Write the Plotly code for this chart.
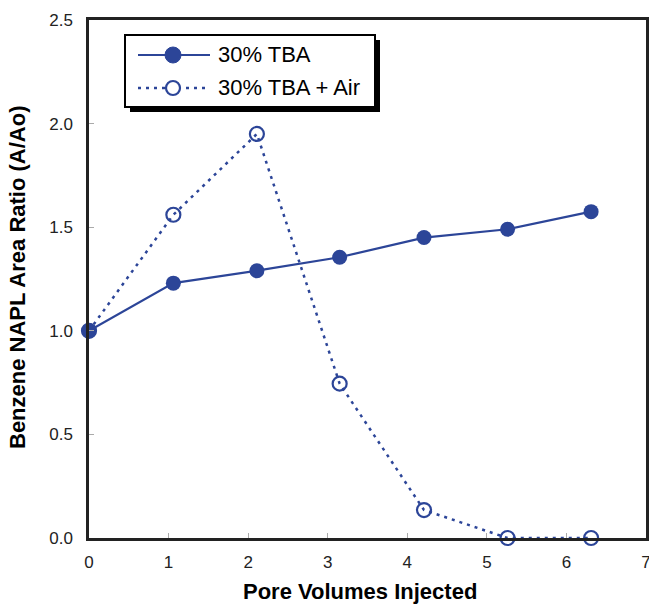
import plotly.graph_objects as go

# Pore volumes injected and normalized benzene NAPL area ratio (A/Ao)
pore_volumes = [0.0, 1.06, 2.11, 3.15, 4.21, 5.26, 6.31]
tba_ratio = [1.00, 1.23, 1.29, 1.355, 1.45, 1.49, 1.575]
tba_air_ratio = [1.00, 1.56, 1.95, 0.745, 0.135, 0.0, 0.0]

series_names = ["30% TBA", "30% TBA + Air"]
x_ticks = [0, 1, 2, 3, 4, 5, 6, 7]
y_ticks = [0.0, 0.5, 1.0, 1.5, 2.0, 2.5]

BLUE = "#2C4598"
W, H = 649, 605
L, R, T, B = 89, 3, 20, 67
PW, PH = W - L - R, H - T - B


def px_x(px):
    return (px - L) / PW


def px_y(py):
    return (H - B - py) / PH


fig = go.Figure()

fig.add_trace(go.Scatter(
    x=pore_volumes, y=tba_ratio, name=series_names[0], mode="lines+markers",
    line=dict(color=BLUE, width=2.2),
    marker=dict(symbol="circle", size=15, color=BLUE),
    cliponaxis=False,
))
fig.add_trace(go.Scatter(
    x=pore_volumes, y=tba_air_ratio, name=series_names[1], mode="lines+markers",
    line=dict(color=BLUE, width=2.5, dash="3px,5px"),
    marker=dict(symbol="circle-open", size=14, color=BLUE, line=dict(width=2.2)),
    cliponaxis=False,
))

axis_font = dict(family="Liberation Sans, Arial, sans-serif", size=17, color="#222")

fig.update_xaxes(
    range=[0, 7], tickvals=x_ticks, ticktext=[str(v) for v in x_ticks],
    showgrid=False, zeroline=False, showline=True, linecolor="#222", linewidth=2.5,
    mirror=True, ticks="inside", ticklen=5, tickcolor="#aaa", tickwidth=1,
    tickfont=axis_font, ticklabelstandoff=7, ticklabeloverflow="allow",
)
fig.update_yaxes(
    range=[0, 2.5], tickvals=y_ticks, ticktext=[f"{v:.1f}" for v in y_ticks],
    showgrid=False, zeroline=False, showline=True, linecolor="#222", linewidth=2.5,
    mirror=True, ticks="inside", ticklen=5, tickcolor="#aaa", tickwidth=1,
    tickfont=axis_font, ticklabelstandoff=10, ticklabeloverflow="allow",
)

# Legend box with drop shadow
box_l, box_r, box_t, box_b = 125, 375, 35, 107
shapes = [
    dict(type="rect", xref="paper", yref="paper",
         x0=px_x(box_l + 5), x1=px_x(box_r + 5), y0=px_y(box_b + 5), y1=px_y(box_t + 5),
         line=dict(width=0), fillcolor="black", layer="above"),
    dict(type="rect", xref="paper", yref="paper",
         x0=px_x(box_l), x1=px_x(box_r), y0=px_y(box_b), y1=px_y(box_t),
         line=dict(color="black", width=2), fillcolor="white", layer="above"),
]
row_y = [55, 88]
line_x0, line_x1, mark_x = 138, 210, 173
shapes.append(dict(type="line", xref="paper", yref="paper",
                   x0=px_x(line_x0), x1=px_x(line_x1), y0=px_y(row_y[0]), y1=px_y(row_y[0]),
                   line=dict(color=BLUE, width=2.2), layer="above"))
shapes.append(dict(type="line", xref="paper", yref="paper",
                   x0=px_x(line_x0), x1=px_x(line_x1), y0=px_y(row_y[1]), y1=px_y(row_y[1]),
                   line=dict(color=BLUE, width=2.5, dash="3px,5px"), layer="above"))
shapes.append(dict(type="circle", xref="paper", yref="paper",
                   xsizemode="pixel", ysizemode="pixel",
                   xanchor=px_x(mark_x), yanchor=px_y(row_y[0]),
                   x0=-8, x1=8, y0=-8, y1=8,
                   line=dict(color=BLUE, width=1), fillcolor=BLUE, layer="above"))
shapes.append(dict(type="circle", xref="paper", yref="paper",
                   xsizemode="pixel", ysizemode="pixel",
                   xanchor=px_x(mark_x), yanchor=px_y(row_y[1]),
                   x0=-7, x1=7, y0=-7, y1=7,
                   line=dict(color=BLUE, width=2.2), fillcolor="white", layer="above"))

legend_font = dict(family="Liberation Sans, Arial, sans-serif", size=22, color="black")
title_font = dict(family="Liberation Sans, Arial, sans-serif", size=22, color="black")

annotations = [
    dict(text=series_names[0], xref="paper", yref="paper", x=px_x(216), y=px_y(row_y[0]),
         xanchor="left", yanchor="middle", showarrow=False, font=legend_font),
    dict(text=series_names[1], xref="paper", yref="paper", x=px_x(216), y=px_y(row_y[1]),
         xanchor="left", yanchor="middle", showarrow=False, font=legend_font),
    dict(text="<b>Pore Volumes Injected</b>", xref="paper", yref="paper",
         x=px_x(360), y=px_y(591), xanchor="center", yanchor="middle",
         showarrow=False, font=title_font),
    dict(text="<b>Benzene NAPL Area Ratio (A/Ao)</b>", xref="paper", yref="paper",
         x=px_x(17), y=px_y(277), xanchor="center", yanchor="middle", textangle=-90,
         showarrow=False, font=title_font),
]

fig.update_layout(
    width=W, height=H,
    margin=dict(l=L, r=R, t=T, b=B, autoexpand=False),
    paper_bgcolor="white", plot_bgcolor="white",
    showlegend=False,
    shapes=shapes, annotations=annotations,
)

fig.write_html("out.html")
